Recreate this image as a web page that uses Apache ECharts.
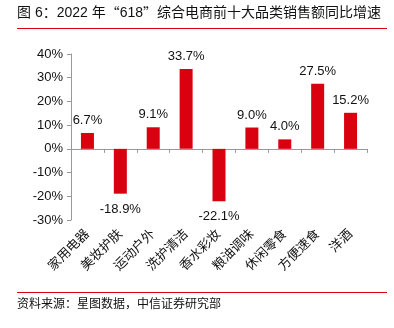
<!DOCTYPE html>
<html>
<head>
<meta charset="utf-8">
<script src="https://cdn.jsdelivr.net/npm/echarts@6/dist/echarts.min.js"></script>
<style>
html,body{margin:0;padding:0;background:#fff;}
#chart{width:394px;height:328px;}
</style>
</head>
<body>
<div id="chart"></div>
<script>
// Category names and year-on-year growth (%)
const categories = ['家用电器', '美妆护肤', '运动户外', '洗护清洁', '香水彩妆', '粮油调味', '休闲零食', '方便速食', '洋酒'];
const growth = [6.7, -18.9, 9.1, 33.7, -22.1, 9.0, 4.0, 27.5, 15.2];
const yTicks = { min: -30, max: 40, step: 10 };

// full-width quotes are set in the CJK face via rich text
const titleText = '图 6：2022 年{q|“}618{q|”}综合电商前十大品类销售额同比增速';
const sourceText = '资料来源：星图数据，中信证券研究部';

const FONT = '"Liberation Sans", "Noto Sans CJK SC", sans-serif';
const CJK = '"Noto Sans CJK SC", sans-serif';
const RED = '#d9000f';

const chart = echarts.init(document.getElementById('chart'), null, { renderer: 'canvas' });

chart.setOption({
  animation: false,
  textStyle: { fontFamily: FONT },
  grid: { left: 71, right: 27, top: 54, bottom: 108, containLabel: false, outerBoundsMode: 'none' },
  graphic: [
    {
      type: 'text', left: 17, top: 6,
      style: {
        text: titleText, font: '14px ' + FONT, fill: '#111',
        rich: { q: { fontFamily: CJK, fontSize: 14, fill: '#111' } }
      }
    },
    { type: 'line', shape: { x1: 17, y1: 28.5, x2: 387, y2: 28.5 }, style: { stroke: '#d7000f', lineWidth: 1 } },
    { type: 'line', shape: { x1: 17, y1: 292.5, x2: 387, y2: 292.5 }, style: { stroke: '#d7000f', lineWidth: 1 } },
    { type: 'text', left: 17, top: 299, style: { text: sourceText, font: '12px ' + FONT, fill: '#111' } }
  ],
  xAxis: {
    type: 'category',
    data: categories,
    boundaryGap: true,
    axisLine: { onZero: true, lineStyle: { color: '#999', width: 1 } },
    axisTick: { show: true, inside: false, length: 4, alignWithLabel: false, lineStyle: { color: '#999' } },
    axisLabel: {
      interval: 0,
      rotate: 45,
      fontSize: 13,
      color: '#111',
      fontFamily: FONT,
      margin: 12
    }
  },
  yAxis: {
    type: 'value',
    min: yTicks.min,
    max: yTicks.max,
    interval: yTicks.step,
    splitLine: { show: false },
    axisLine: { show: true, lineStyle: { color: '#999' } },
    axisTick: { show: true, length: 4, lineStyle: { color: '#999' } },
    axisLabel: { formatter: '{value}%', fontSize: 13, color: '#111', margin: 8, fontFamily: FONT }
  },
  series: [{
    type: 'bar',
    barWidth: 13,
    itemStyle: { color: RED },
    label: {
      show: true,
      fontSize: 13,
      color: '#111',
      fontFamily: FONT,
      distance: 6,
      formatter: p => p.value.toFixed(1) + '%'
    },
    // negative bars carry their labels underneath
    data: growth.map(v => ({
      value: v,
      label: v < 0 ? { position: 'bottom', distance: 9 } : { position: 'top' }
    }))
  }]
});
</script>
</body>
</html>
